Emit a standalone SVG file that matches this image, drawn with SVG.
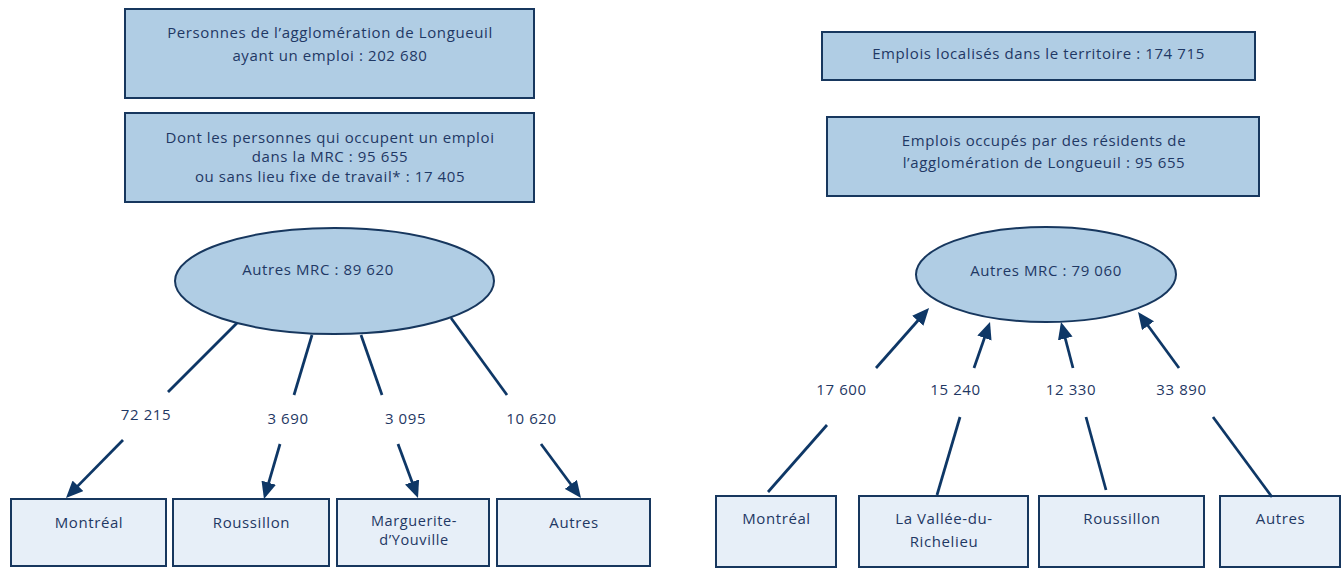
<svg xmlns="http://www.w3.org/2000/svg" width="1341" height="568" viewBox="0 0 1341 568">
<style>
  text { font-family: "Open Sans", "Liberation Sans", sans-serif; font-size: 15px; fill: #1F3864; letter-spacing: 0.6px; text-anchor: middle; }
  .tight { font-size: 14.5px; }
  .main { fill: #B0CDE4; stroke: #17375E; stroke-width: 2; }
  .leaf { fill: #E7EFF8; stroke: #17375E; stroke-width: 2; }
  .ln { stroke: #0E3766; stroke-width: 2.75; fill: none; }
  .arr { stroke: #0E3766; stroke-width: 2.75; fill: none; marker-end: url(#ah); }
</style>
<defs>
  <marker id="ah" markerUnits="userSpaceOnUse" viewBox="0 0 17 15" markerWidth="17" markerHeight="15" refX="13" refY="7.5" orient="auto">
    <path d="M0,0 L17,7.5 L0,15 z" fill="#0E3766"/>
  </marker>
</defs>
<rect width="1341" height="568" fill="#FFFFFF"/>

<!-- Left side -->
<g id="left-total">
  <rect class="main" x="125" y="9" width="409" height="89"/>
  <text x="330" y="37.5">Personnes de l’agglomération de Longueuil</text>
  <text x="330" y="60.5">ayant un emploi : 202 680</text>
</g>
<g id="left-mrc">
  <rect class="main" x="125" y="113" width="409" height="89"/>
  <text x="330" y="142.5">Dont les personnes qui occupent un emploi</text>
  <text x="330" y="162">dans la MRC : 95 655</text>
  <text x="330" y="181.5">ou sans lieu fixe de travail* : 17 405</text>
</g>
<g id="left-autres-mrc">
  <ellipse class="main" cx="334.5" cy="281" rx="159.5" ry="53"/>
  <text x="318" y="274.5">Autres MRC : 89 620</text>
</g>
<g id="left-montreal">
  <rect class="leaf" x="11" y="499" width="155" height="67"/>
  <text x="89" y="528.3">Montréal</text>
</g>
<g id="left-roussillon">
  <rect class="leaf" x="173" y="499" width="156" height="67"/>
  <text x="251.5" y="528.3">Roussillon</text>
</g>
<g id="left-marguerite">
  <rect class="leaf" x="337" y="499" width="152" height="67"/>
  <text class="tight" x="414" y="525.5">Marguerite-</text>
  <text class="tight" x="414" y="545">d’Youville</text>
</g>
<g id="left-autres">
  <rect class="leaf" x="497" y="499" width="153" height="67"/>
  <text x="574" y="528.3">Autres</text>
</g>

<!-- Right side -->
<g id="right-total">
  <rect class="main" x="822" y="32" width="433" height="48"/>
  <text x="1038.5" y="59.3">Emplois localisés dans le territoire : 174 715</text>
</g>
<g id="right-residents">
  <rect class="main" x="827" y="117" width="432" height="79"/>
  <text x="1044" y="145.5">Emplois occupés par des résidents de</text>
  <text x="1044" y="168">l’agglomération de Longueuil : 95 655</text>
</g>
<g id="right-autres-mrc">
  <ellipse class="main" cx="1046" cy="274.5" rx="130" ry="47.5"/>
  <text x="1046" y="276">Autres MRC : 79 060</text>
</g>
<g id="right-montreal">
  <rect class="leaf" x="716" y="496" width="120" height="71"/>
  <text x="776.5" y="524">Montréal</text>
</g>
<g id="right-vallee">
  <rect class="leaf" x="859" y="496" width="169" height="71"/>
  <text x="944" y="524">La Vallée-du-</text>
  <text x="944" y="547.3">Richelieu</text>
</g>
<g id="right-roussillon">
  <rect class="leaf" x="1039" y="496" width="165" height="71"/>
  <text x="1122" y="524">Roussillon</text>
</g>
<g id="right-autres">
  <rect class="leaf" x="1220" y="496" width="120" height="71"/>
  <text x="1280.5" y="524">Autres</text>
</g>

<g id="connectors">
  <!-- left: from ellipse down to boxes -->
  <line class="ln" x1="237" y1="323" x2="168" y2="392"/>
  <line class="arr" x1="123" y1="440" x2="68.8" y2="495.1"/>
  <line class="ln" x1="312" y1="335" x2="294" y2="395"/>
  <line class="arr" x1="280" y1="444" x2="265.1" y2="495.2"/>
  <line class="ln" x1="361" y1="335" x2="382" y2="395"/>
  <line class="arr" x1="398" y1="444" x2="416.6" y2="494.2"/>
  <line class="ln" x1="451" y1="318" x2="507" y2="395"/>
  <line class="arr" x1="541" y1="444" x2="578.6" y2="494.8"/>
  <text x="146" y="420">72 215</text>
  <text x="288" y="424.3">3 690</text>
  <text x="405.5" y="424.3">3 095</text>
  <text x="531.5" y="424.3">10 620</text>

  <!-- right: from boxes up to ellipse -->
  <line class="ln" x1="768" y1="492" x2="827" y2="425"/>
  <line class="arr" x1="876" y1="368" x2="926.4" y2="311"/>
  <line class="ln" x1="937" y1="495" x2="960" y2="417"/>
  <line class="arr" x1="974" y1="368" x2="988.7" y2="325.8"/>
  <line class="ln" x1="1106" y1="490" x2="1086" y2="417"/>
  <line class="arr" x1="1073" y1="368" x2="1062" y2="325.9"/>
  <line class="ln" x1="1272" y1="497" x2="1213" y2="417"/>
  <line class="arr" x1="1179" y1="368" x2="1140.4" y2="315.2"/>
  <text x="841.5" y="395">17 600</text>
  <text x="955.5" y="395">15 240</text>
  <text x="1071" y="395">12 330</text>
  <text x="1181.5" y="395">33 890</text>
</g>
</svg>
